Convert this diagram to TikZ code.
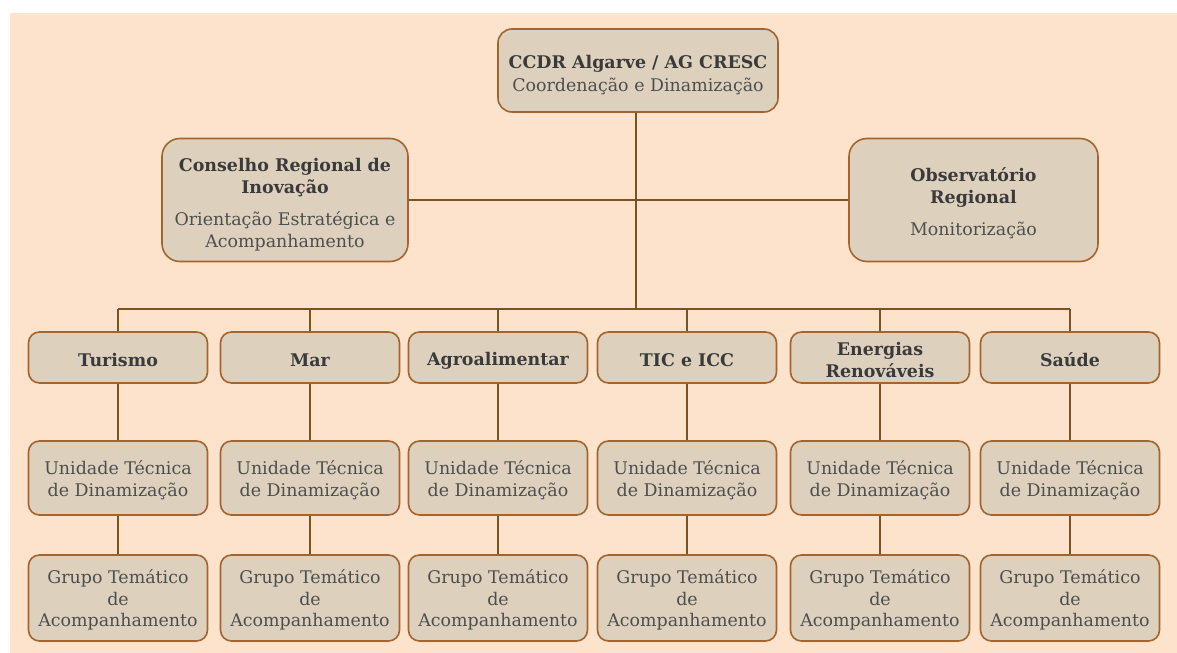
\documentclass[tikz,border=0pt]{standalone}
\usepackage{fontspec}
\setmainfont{DejaVu Serif}
\definecolor{peach}{HTML}{FDE2CC}
\definecolor{boxfill}{HTML}{DDD1BE}
\definecolor{boxedge}{HTML}{A5642E}
\definecolor{linkcol}{HTML}{7A5420}
\definecolor{txtdark}{HTML}{3A3A3A}
\definecolor{txtsoft}{HTML}{4E4E4E}
\newcommand{\headtxt}{\color{txtdark}\bfseries}
\newcommand{\subtxt}{\color{txtsoft}\mdseries}
% taller first line, to set the text a little lower in its box
\newcommand{\lowstrut}[1]{\rule{0pt}{#1bp}}
\begin{document}
\begin{tikzpicture}[x=1bp,y=-1bp,
  unit/.style={draw=boxedge, line width=1.6bp, fill=boxfill, rounded corners=11bp,
    align=center, text=txtsoft, inner sep=0pt,
    font=\fontsize{17.5}{22}\selectfont},
  bigunit/.style={unit, rounded corners=18bp},
  sector/.style={unit, minimum width=179bp, minimum height=51bp, text=txtdark,
    font=\fontsize{17.5}{22}\selectfont\bfseries},
  techunit/.style={unit, minimum width=179bp, minimum height=74bp},
  themeunit/.style={unit, minimum width=179bp, minimum height=86bp,
    font=\fontsize{17.5}{21.5}\selectfont},
  link/.style={draw=linkcol, line width=2bp}]
\useasboundingbox (0,0) rectangle (1177,653);
\fill[white] (0,0) rectangle (1177,653);
\fill[peach] (10,13) rectangle (1177,653);

% governance
\node[bigunit, rounded corners=14bp, minimum width=280bp, minimum height=83bp,
      font=\fontsize{17.5}{23}\selectfont] (top) at (638,70.5)
  {\lowstrut{22}\headtxt CCDR Algarve / AG CRESC\\\subtxt Coordenação e Dinamização};
\node[bigunit, minimum width=246bp, minimum height=123bp] (cri) at (285,200)
  {\lowstrut{22}\headtxt Conselho Regional de\\\headtxt Inovação\\[10bp]\subtxt Orientação Estratégica e\\\subtxt Acompanhamento};
\node[bigunit, minimum width=249bp, minimum height=123bp] (obs) at (973.5,200)
  {\lowstrut{21}\headtxt Observatório\\\headtxt Regional\\[10bp]\subtxt Monitorização};

% sectors, each with its technical unit and thematic group
\foreach \n/\x/\t in {a/118/Turismo, b/310/Mar, c/498/Agroalimentar,
    d/687/TIC e ICC, e/880/{Energias\\\bfseries Renováveis}, f/1070/Saúde}{
  \node[sector] (s\n) at (\x,357.5) {\lowstrut{19}\t};
  \node[techunit] (u\n) at (\x,478) {\lowstrut{18}Unidade Técnica\\de Dinamização};
  \node[themeunit] (g\n) at (\x,598) {\lowstrut{18}Grupo Temático\\de\\Acompanhamento};
}

% connectors
\coordinate (bus) at (636,309);
\draw[link] (top.south -| bus) -- (bus);
\draw[link] (cri.east) -- (obs.west);
\draw[link] (sa.north |- bus) -- (sf.north |- bus);
\foreach \n in {a,b,c,d,e,f}{
  \draw[link] (s\n.north |- bus) -- (s\n.north);
  \draw[link] (s\n.south) -- (u\n.north);
  \draw[link] (u\n.south) -- (g\n.north);
}
\end{tikzpicture}
\end{document}
